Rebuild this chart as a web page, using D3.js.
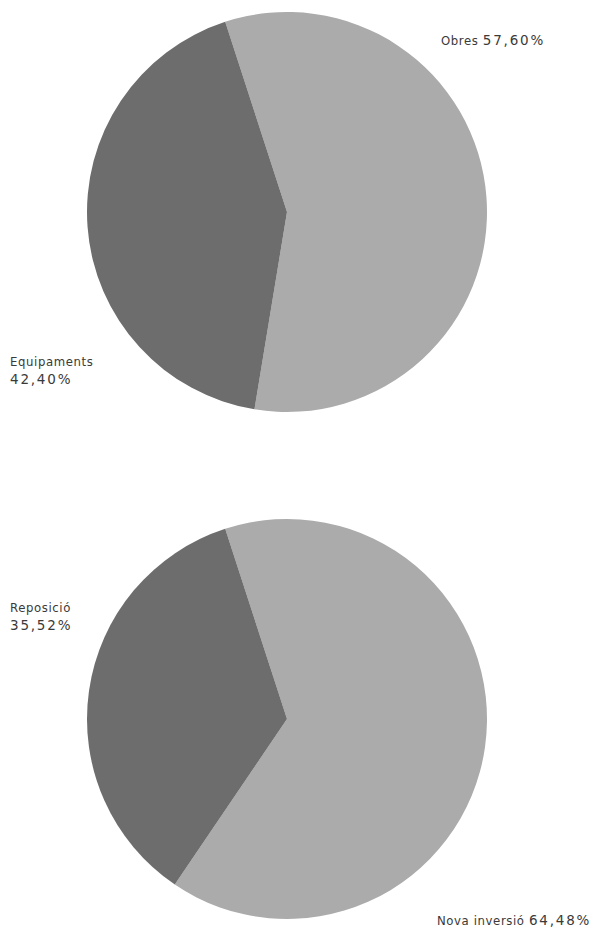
<!DOCTYPE html>
<html>
<head>
<meta charset="utf-8">
<script src="https://cdn.jsdelivr.net/npm/d3@7"></script>
<style>
  body { margin: 0; background: #fff; }
  svg text { font-family: "DejaVu Sans Condensed", "DejaVu Sans", sans-serif; font-size: 13px; fill: #3a3a3a; }
  svg text .w { letter-spacing: 0.6px; }
  svg text .n { font-family: "DejaVu Sans", sans-serif; font-size: 13.5px; letter-spacing: 1.8px; }
</style>
</head>
<body>
<svg width="612" height="936"></svg>
<script>
// top pie
const topCats = ['Obres', 'Equipaments'];
const topVals = [57.60, 42.40];
// bottom pie
const botCats = ['Nova inversió', 'Reposició'];
const botVals = [64.48, 35.52];

const colors = ['#ababab', '#6d6d6d'];
const fmt = v => d3.format('.2f')(v).replace('.', ',') + '%';

const svg = d3.select('svg');
const r = 200;
const start = -18 * Math.PI / 180;

const pie = d3.pie().sort(null).value(d => d)
              .startAngle(start).endAngle(start + 2 * Math.PI);
const arc = d3.arc().innerRadius(0).outerRadius(r);

function drawPie(cx, cy, vals) {
	const g = svg.append('g').attr('transform', `translate(${cx},${cy})`);
	g.selectAll('path')
	 .data(pie(vals))
	 .join('path')
	 .attr('d', arc)
	 .attr('fill', (d, i) => colors[i]);
	return g;
}

drawPie(287, 212, topVals);
drawPie(287, 719, botVals);

// label: word + value on one line, or on two lines
function label(x, y, word, val, twoLines) {
	const t = svg.append('text').attr('x', x).attr('y', y);
	t.append('tspan').attr('class', 'w').text(twoLines ? word : word + '  ');
	const n = t.append('tspan').attr('class', 'n').text(fmt(val));
	if(twoLines) n.attr('x', x).attr('dy', 18);
}

label(441, 45, topCats[0], topVals[0], false);
label(10, 366, topCats[1], topVals[1], true);
label(10, 612, botCats[1], botVals[1], true);
label(437, 925, botCats[0], botVals[0], false);
</script>
</body>
</html>
